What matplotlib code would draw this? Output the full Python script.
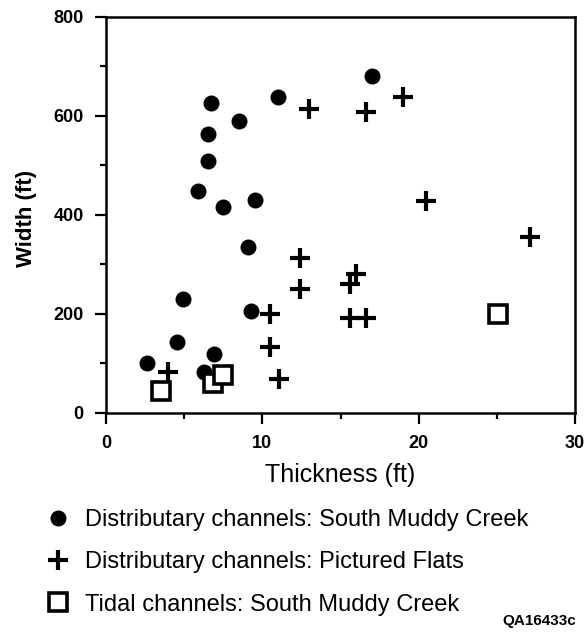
import matplotlib
matplotlib.use("Agg")
import matplotlib.pyplot as plt
from matplotlib.lines import Line2D
from matplotlib.ticker import MultipleLocator

plt.rcParams['font.family'] = ['Liberation Sans', 'DejaVu Sans']

# Distributary channels: South Muddy Creek (filled circles)
smc_thick = [17.0, 6.7, 11.0, 8.5, 6.5, 6.5, 5.9, 7.5, 9.5, 9.1, 4.95, 9.3, 4.55, 2.6, 6.9, 6.25]
smc_width = [681, 625, 638, 589, 564, 508, 448, 416, 429, 335, 230, 205, 143, 100, 119, 83]

# Distributary channels: Pictured Flats (plus)
pf_thick = [13.0, 16.6, 19.0, 20.5, 27.1, 16.0, 15.6, 15.6, 16.6, 12.4, 12.4, 10.5, 10.5, 11.05, 3.95]
pf_width = [614, 607, 638, 428, 354, 280, 261, 192, 192, 312, 249, 200, 133, 69, 82]

# Tidal channels: South Muddy Creek (open squares)
tidal_thick = [3.55, 6.85, 7.5, 25.1]
tidal_width = [44, 61, 76, 199]

labels = ["Distributary channels: South Muddy Creek",
          "Distributary channels: Pictured Flats",
          "Tidal channels: South Muddy Creek"]

fig = plt.figure(figsize=(5.88, 6.35), dpi=100)
ax = fig.add_axes([106/588, 1-412.7/635, (575-106)/588, (412.7-16.7)/635])

circ_kw = dict(ls='none', marker='o', ms=11.5, mfc='black', mec='black', mew=0)
plus_kw = dict(ls='none', marker='+', ms=14.5, mec='black', mew=3.0)
sq_kw = dict(ls='none', marker='s', ms=13.5, mfc='white', mec='black', mew=2.6)

ax.plot(smc_thick, smc_width, zorder=3, **circ_kw)
for x, y in zip(tidal_thick, tidal_width):
    ax.plot([x], [y], zorder=4, **sq_kw)
ax.plot(pf_thick, pf_width, zorder=5, **plus_kw)

ax.set_xlim(0, 30)
ax.set_ylim(0, 800)
ax.xaxis.set_major_locator(MultipleLocator(10))
ax.xaxis.set_minor_locator(MultipleLocator(5))
ax.yaxis.set_major_locator(MultipleLocator(200))
ax.yaxis.set_minor_locator(MultipleLocator(100))

for s in ax.spines.values():
    s.set_linewidth(1.8)
ax.tick_params(which='major', direction='out', length=8, width=1.6, pad=8,
               labelsize=13)
ax.tick_params(which='minor', direction='out', length=4.5, width=1.6)
for lab in ax.get_xticklabels() + ax.get_yticklabels():
    lab.set_fontweight('bold')

ax.set_xlabel("Thickness (ft)", fontsize=18)
ax.set_ylabel("Width (ft)", fontsize=16, fontweight='bold')
ax.xaxis.set_label_coords(0.5, -(462.5-412.7)/396)
ax.yaxis.set_label_coords((37-106)/469, 0.49)

handles = [Line2D([], [], **circ_kw), Line2D([], [], **plus_kw), Line2D([], [], **sq_kw)]
fig.legend(handles, labels, loc='upper left', bbox_to_anchor=(46.2/588, 1-509/635),
           frameon=False, fontsize=17, borderpad=0, handlelength=1.0,
           handletextpad=0.64, labelspacing=0.86, borderaxespad=0)

fig.text(576/588, 1-621/635, "QA16433c", ha='right', va='center',
         fontsize=11, fontweight='bold')

fig.savefig("out.png", dpi=100)
